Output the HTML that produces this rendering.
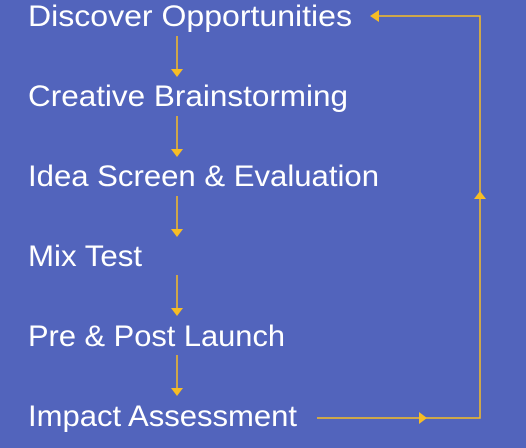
<!DOCTYPE html>
<html><head><style>html,body{margin:0;padding:0;background:#5264BC;}svg{display:block}</style></head>
<body>
<svg width="526" height="448" viewBox="0 0 526 448" xmlns="http://www.w3.org/2000/svg">
<rect width="526" height="448" fill="#5264BC"/>
<g font-family="Liberation Sans, sans-serif" font-size="30" fill="#fff">
<text x="28" y="26" textLength="324" lengthAdjust="spacingAndGlyphs">Discover Opportunities</text>
<text x="28" y="106" textLength="320" lengthAdjust="spacingAndGlyphs">Creative Brainstorming</text>
<text x="28" y="186" textLength="351" lengthAdjust="spacingAndGlyphs">Idea Screen &amp; Evaluation</text>
<text x="28" y="266" textLength="114" lengthAdjust="spacingAndGlyphs">Mix Test</text>
<text x="28" y="346" textLength="257" lengthAdjust="spacingAndGlyphs">Pre &amp; Post Launch</text>
<text x="28" y="426" textLength="269" lengthAdjust="spacingAndGlyphs">Impact Assessment</text>
</g>
<g stroke="#F7BD25" stroke-width="1.5" fill="none">
<line x1="177" y1="36" x2="177" y2="70"/>
<line x1="177" y1="116" x2="177" y2="150"/>
<line x1="177" y1="196" x2="177" y2="230"/>
<line x1="177" y1="275" x2="177" y2="309"/>
<line x1="177" y1="355" x2="177" y2="389"/>
<polyline points="317,418 480,418 480,16 376,16"/>
</g>
<g fill="#F7BD25">
<polygon points="171,69 183,69 177,77"/>
<polygon points="171,149 183,149 177,157"/>
<polygon points="171,229 183,229 177,237"/>
<polygon points="171,308 183,308 177,316"/>
<polygon points="171,388 183,388 177,396"/>
<polygon points="419,412 419,424 427,418"/>
<polygon points="474,199 486,199 480,191"/>
<polygon points="379,10 379,22 370,16"/>
</g>
</svg>
</body></html>
